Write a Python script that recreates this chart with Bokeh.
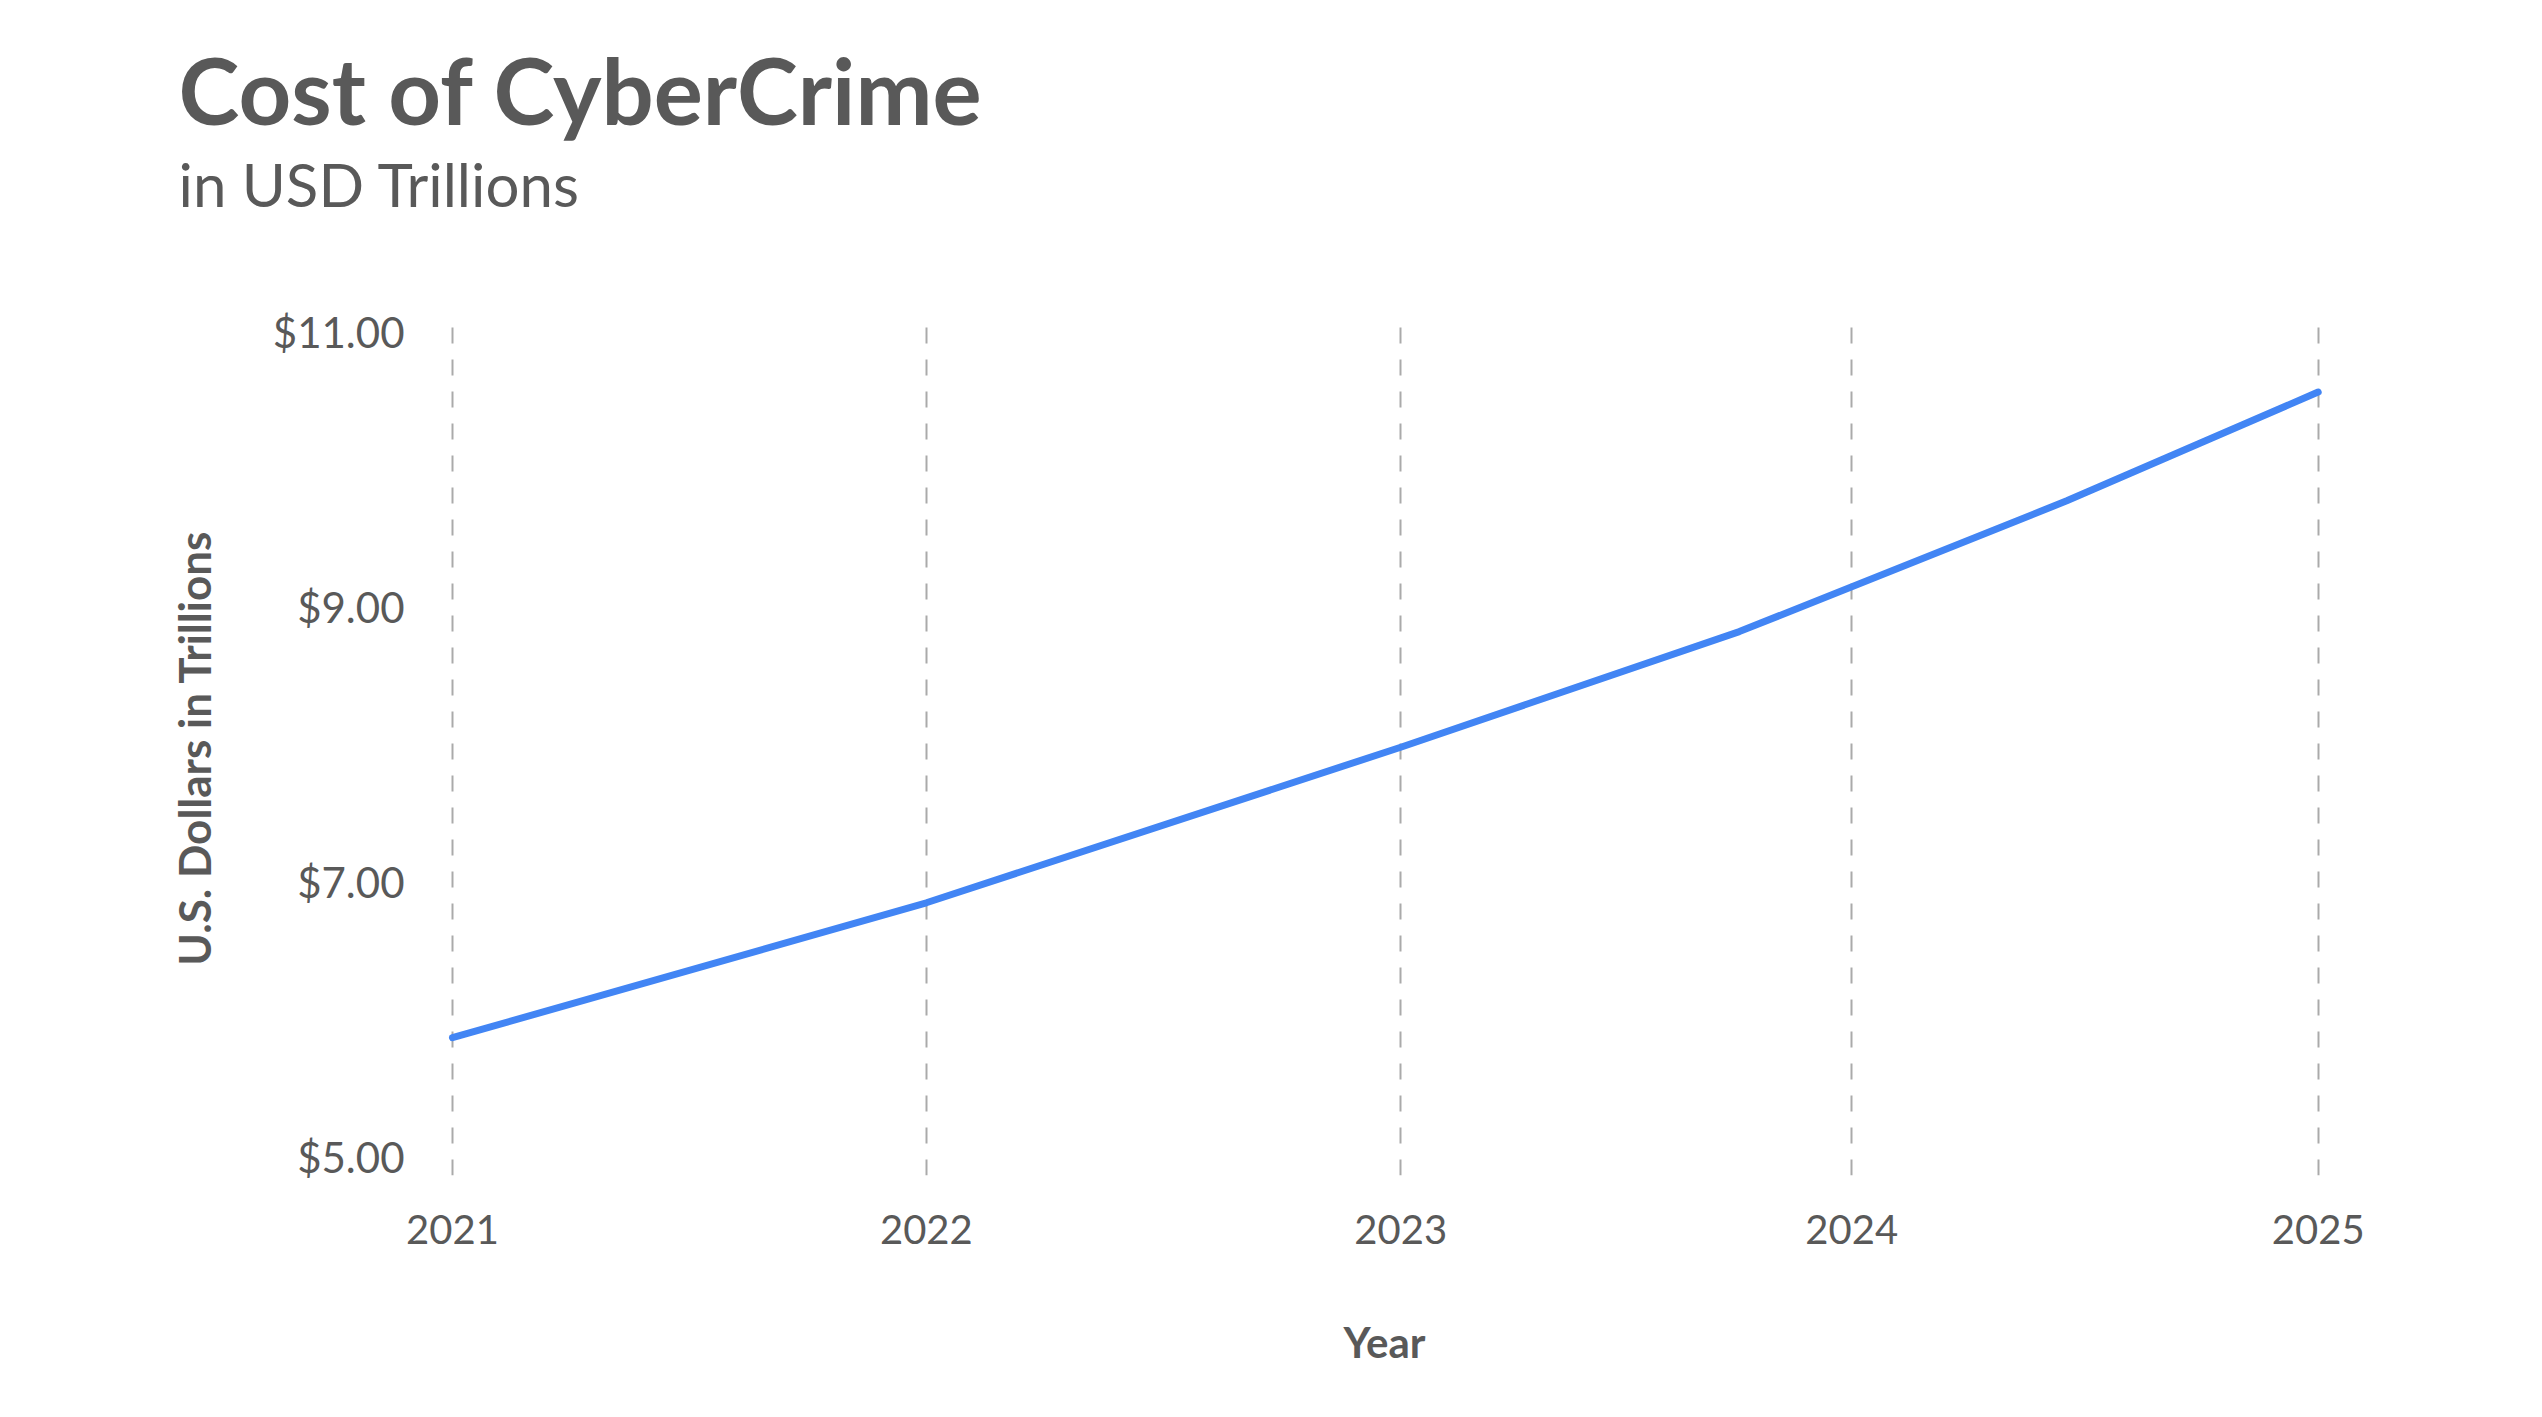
from bokeh.plotting import figure
from bokeh.models import Range1d, FixedTicker, NumeralTickFormatter, Title
from bokeh.embed import file_html
from bokeh.resources import INLINE

# ---- data ----
point_x = [2021.0, 2022.016, 2023.033, 2023.759, 2024.461, 2025.0]
cost_trillions = [5.87, 6.85, 7.98, 8.82, 9.77, 10.56]
year_tick_x = [2021.0, 2022.016, 2023.033, 2024.0, 2025.0]
year_labels = ["2021", "2022", "2023", "2024", "2025"]
value_ticks = [5, 7, 9, 11]
title_text = "Cost of CyberCrime"
subtitle_text = "in USD Trillions"

TEXT = "#595959"
FONT = "Lato"
W = 2500
H = 1400

p = figure(width=W, height=H, output_backend="svg", toolbar_location=None,
           x_range=Range1d(2020.9207, 2025.0757), y_range=Range1d(4.869, 11.08),
           min_border_left=415, min_border_right=W - 2353, min_border_top=320, min_border_bottom=225)
p.outline_line_color = None
p.background_fill_color = "white"
p.border_fill_color = "white"

# main title (outermost)
p.title.text = title_text
p.title.align = "left"
p.title.offset = -237
p.title.standoff = 1
p.title.text_font = FONT
p.title.text_font_size = "92px"
p.title.text_font_style = "bold"
p.title.text_color = TEXT
# empty spacer between the chart and the subtitle (added first = nearest the chart)
p.add_layout(Title(text=" ", align="left", standoff=98, text_font=FONT,
                   text_font_size="1px", text_color="white"), "above")
# subtitle
p.add_layout(Title(text=subtitle_text, align="left", offset=-237, standoff=0, text_font=FONT,
                   text_font_size="60px", text_font_style="normal", text_color=TEXT), "above")

p.line(point_x, cost_trillions, line_color="#4285F4", line_width=7, line_cap="round", line_join="round")

xa = p.xaxis[0]
xa.ticker = FixedTicker(ticks=year_tick_x)
xa.major_label_overrides = {t: l for t, l in zip(year_tick_x, year_labels)}
xa.axis_line_color = None
xa.major_tick_line_color = None
xa.minor_tick_line_color = None
xa.major_label_text_font = FONT
xa.major_label_text_font_size = "40px"
xa.major_label_text_color = TEXT
xa.major_label_standoff = 33
xa.axis_label = "Year"
xa.axis_label_text_font = FONT
xa.axis_label_text_font_size = "42px"
xa.axis_label_text_font_style = "bold"
xa.axis_label_text_color = TEXT
xa.axis_label_standoff = 70

ya = p.yaxis[0]
ya.ticker = FixedTicker(ticks=value_ticks)
ya.formatter = NumeralTickFormatter(format="$0.00")
ya.axis_line_color = None
ya.major_tick_line_color = None
ya.minor_tick_line_color = None
ya.major_label_text_font = FONT
ya.major_label_text_font_size = "42px"
ya.major_label_text_color = TEXT
ya.major_label_standoff = 5
ya.axis_label = "U.S. Dollars in Trillions"
ya.axis_label_text_font = FONT
ya.axis_label_text_font_size = "44px"
ya.axis_label_text_font_style = "bold"
ya.axis_label_text_color = TEXT
ya.axis_label_standoff = 50

p.xgrid.ticker = FixedTicker(ticks=year_tick_x)
p.xgrid.grid_line_color = "#aaaaaa"
p.xgrid.grid_line_width = 2
p.xgrid.grid_line_dash = "16 16"
p.ygrid.grid_line_color = None

open("out.html", "w").write(file_html(p, INLINE))
